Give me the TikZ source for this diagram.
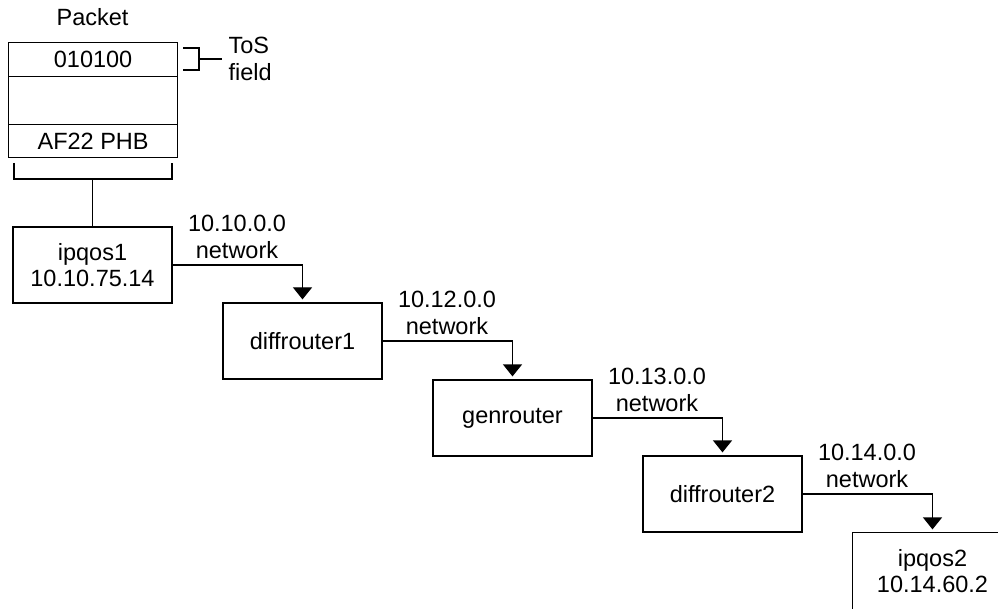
\documentclass[tikz,border=0pt]{standalone}
\usepackage{fontspec}
\setmainfont{Liberation Sans}
\usetikzlibrary{arrows.meta}
\begin{document}
\begin{tikzpicture}[x=1pt,y=-1pt,
  line width=1.2pt,
  every node/.style={font=\fontsize{23.5}{26.5}\selectfont, inner sep=0pt},
  hostbox/.style={draw, minimum width=159pt, minimum height=76pt, align=center},
  field/.style={draw, minimum width=169pt, anchor=north west},
  link/.style={-{Triangle[width=19pt,length=12pt]}, shorten >=3pt},
  netlabel/.style={align=center, anchor=south}
]
\useasboundingbox (0,0) rectangle (998,609);
\clip (0,0) rectangle (998,609);

% packet with its header fields
\node[anchor=base] (pkttitle) at (92.5,26) {Packet};
\node[field, minimum height=34pt] (tos) at (8,42) {010100};
\node[field, minimum height=48pt] (mid) at (8,76) {};
\node[field, minimum height=33pt] (phb) at (8,124) {AF22 PHB};

% ToS field bracket
\node[anchor=west, align=left, font=\fontsize{23.5}{27.5}\selectfont] (tosfield) at (228,59) {ToS\\field};
\draw (183,48) -| (199,70) -- (183,70);
\coordinate (tosmid) at (199,59);
\draw (tosmid) -- ([xshift=-6pt]tosfield.west);

% hosts and routers
\node[hostbox] (ipqos1) at (92.5,265) {ipqos1\\10.10.75.14};
\node[hostbox] (dr1) at (302.5,341) {diffrouter1};
\node[hostbox] (gen) at (512.5,418) {genrouter};
\node[hostbox] (dr2) at (722.5,494) {diffrouter2};
% the last host runs on past the right and lower edges
\node[hostbox, draw=none] (ipqos2) at (932.5,571) {ipqos2\\10.14.60.2};
\draw ([yshift=-20pt]ipqos2.south west) |- ([xshift=20pt]ipqos2.north east);

% packet bracket down to the sending host
\draw (14,163) |- (172,179) -- (172,163);
\coordinate (brk) at (92.5,179);
\draw (brk) -- (ipqos1.north);

% network links
\draw[link] (ipqos1.east) -| (dr1.north);
\draw[link] (dr1.east) -| (gen.north);
\draw[link] (gen.east) -| (dr2.north);
\draw[link] (dr2.east) -| (ipqos2.north);

\node[netlabel] (net10) at (237,259) {10.10.0.0\\network};
\node[netlabel] (net12) at (447,335) {10.12.0.0\\network};
\node[netlabel] (net13) at (657,412) {10.13.0.0\\network};
\node[netlabel] (net14) at (867,488) {10.14.0.0\\network};
\end{tikzpicture}
\end{document}
